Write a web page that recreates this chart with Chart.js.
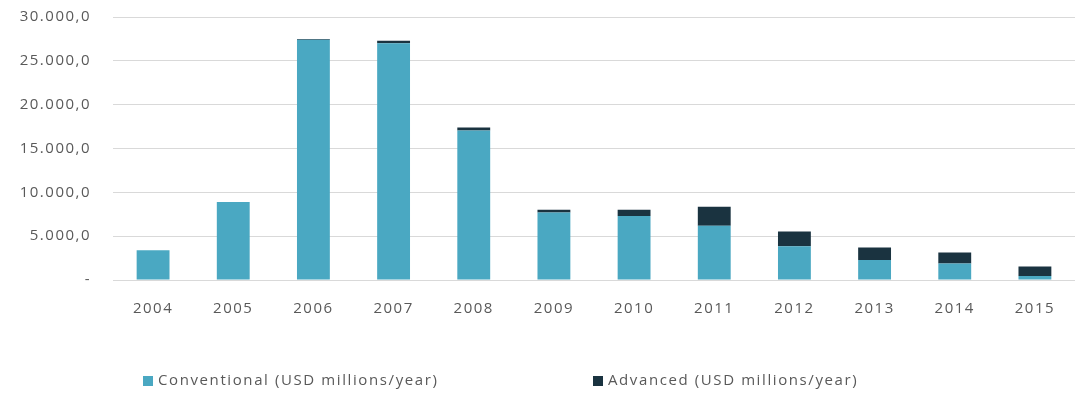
<!DOCTYPE html>
<html>
<head>
<meta charset="utf-8">
<script src="https://cdn.jsdelivr.net/npm/chart.js@4"></script>
<style>
  html, body { margin: 0; padding: 0; background: #fff; overflow: hidden; }
  #wrap { width: 1075px; height: 407px; margin-top: -14px; position: relative; }
</style>
</head>
<body>
<div id="wrap"><canvas id="investChart"></canvas></div>
<script>
// Values (USD millions/year)
const years = ['2004', '2005', '2006', '2007', '2008', '2009', '2010', '2011', '2012', '2013', '2014', '2015'];
const conventional = [3400, 8900, 27400, 27000, 17050, 7700, 7300, 6200, 3850, 2270, 1890, 450];
const advanced = [0, 0, 100, 300, 350, 300, 700, 2150, 1670, 1430, 1250, 1100];
const yTicks = [0, 5000, 10000, 15000, 20000, 25000, 30000];

// Format like "25.000,0", zero shown as "-"
function formatTick(value) {
    if (value === 0) return '-';
    const whole = Math.round(value).toString().replace(/\B(?=(\d{3})+(?!\d))/g, '.');
    return whole + ',0';
}

const textColor = '#595959';
const fontFamily = 'Open Sans';

// Slight letter spacing like the original
const spacingPlugin = {
    id: 'spacing',
    beforeDraw(chart) {
        chart.ctx.letterSpacing = '1.5px';
    }
};

// Wide-spaced legend at the bottom, Excel style
const legendPlugin = {
    id: 'wideLegend',
    afterDraw(chart) {
        const c = chart.ctx;
        const slots = [143, 593];
        c.save();
        c.letterSpacing = '1.6px';
        c.font = '15px ' + fontFamily;
        c.textBaseline = 'middle';
        c.textAlign = 'left';
        chart.data.datasets.forEach((ds, i) => {
            const x = slots[i];
            const y = 395;
            c.fillStyle = ds.backgroundColor;
            c.fillRect(x, y - 5, 10, 10);
            c.fillStyle = textColor;
            c.fillText(ds.label, x + 15, y);
        });
        c.restore();
    }
};

const ctx = document.getElementById('investChart').getContext('2d');

new Chart(ctx, {
    type: 'bar',
    data: {
        labels: years,
        datasets: [
            {
                label: 'Conventional (USD millions/year)',
                data: conventional,
                backgroundColor: '#4aa8c2',
                barPercentage: 0.41,
                categoryPercentage: 1
            },
            {
                label: 'Advanced (USD millions/year)',
                data: advanced,
                backgroundColor: '#1a3340',
                barPercentage: 0.41,
                categoryPercentage: 1
            }
        ]
    },
    options: {
        responsive: true,
        maintainAspectRatio: false,
        animation: false,
        layout: { padding: { top: 0, right: 0, bottom: 63, left: 0 } },
        scales: {
            x: {
                stacked: true,
                grid: { display: false },
                border: { display: false },
                ticks: { color: textColor, font: { family: fontFamily, size: 15 }, padding: 12 }
            },
            y: {
                stacked: true,
                min: 0,
                max: 30000,
                afterBuildTicks(scale) {
                    scale.ticks = yTicks.map(v => ({ value: v }));
                },
                afterFit(scale) { scale.width = 113; },
                grid: { color: '#d9d9d9', lineWidth: 1, drawTicks: false },
                border: { display: false },
                ticks: {
                    color: textColor,
                    font: { family: fontFamily, size: 15 },
                    padding: 22,
                    callback: value => formatTick(value)
                }
            }
        },
        plugins: {
            legend: { display: false },
            tooltip: { enabled: false }
        }
    },
    plugins: [spacingPlugin, legendPlugin]
});
</script>
</body>
</html>
